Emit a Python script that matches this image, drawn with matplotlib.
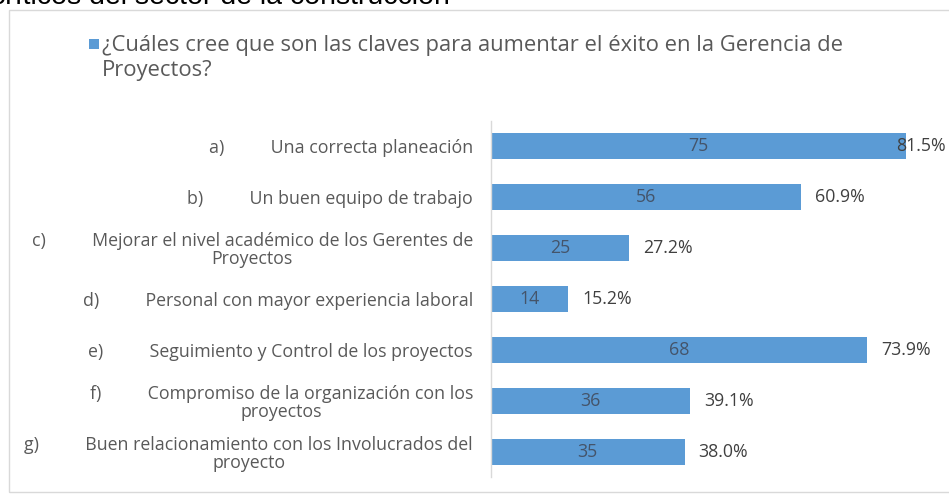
import matplotlib
matplotlib.use("Agg")
import matplotlib.pyplot as plt
from matplotlib.patches import Rectangle

# Survey answers: number of respondents choosing each key factor (n = 92)
letters = ["a)", "b)", "c)", "d)", "e)", "f)", "g)"]
factors = [
    "Una correcta planeación",
    "Un buen equipo de trabajo",
    "Mejorar el nivel académico de los Gerentes de\nProyectos",
    "Personal con mayor experiencia laboral",
    "Seguimiento y Control de los proyectos",
    "Compromiso de la organización con los\nproyectos",
    "Buen relacionamiento con los Involucrados del\nproyecto",
]
counts = [75, 56, 25, 14, 68, 36, 35]
percents = [81.5, 60.9, 27.2, 15.2, 73.9, 39.1, 38.0]

series_name = "¿Cuáles cree que son las claves para aumentar el éxito en la Gerencia de\nProyectos?"
heading = "críticos del sector de la construcción"

W, H = 949, 494
BLUE = "#5B9BD5"
FONT = "Open Sans"
FS = 12.8

fig = plt.figure(figsize=(W / 100, H / 100), dpi=100)
fig.patch.set_facecolor("white")


def fx(x):
    return x / W


def fy(y):
    return 1 - y / H


# outer chart frame
fig.patches.append(Rectangle((fx(9), fy(492)), fx(960) - fx(9), fy(10) - fy(492),
                             transform=fig.transFigure, fill=False,
                             edgecolor="#d9d9d9", linewidth=1.0))

# heading text from the page above the chart
fig.text(fx(450), fy(4.5), heading, ha="right", va="baseline",
         fontsize=20.5, family="Liberation Sans", color="black")

# series legend
fig.patches.append(Rectangle((fx(89), fy(49)), fx(10), 10 / H,
                             transform=fig.transFigure, facecolor=BLUE, edgecolor="none"))
fig.text(fx(102), fy(35), series_name, ha="left", va="top", fontsize=15.8,
         family=FONT, color="#595959", linespacing=1.25)

ax = fig.add_axes([fx(491), fy(477), fx(949) - fx(491), fy(121) - fy(477)])
y = list(range(len(counts)))
bars = ax.barh(y, counts, height=0.51, color=BLUE, edgecolor="none")
ax.set_ylim(len(counts) - 0.5, -0.5)
xmax = 458 / 5.53
ax.set_xlim(0, xmax)

for s in ["top", "right", "bottom"]:
    ax.spines[s].set_visible(False)
ax.spines["left"].set_color("#d9d9d9")
ax.spines["left"].set_linewidth(1.0)
ax.set_xticks([])

labels = [f"{l}{' ' * 10}{t}" for l, t in zip(letters, factors)]
ax.set_yticks(y)
ax.set_yticklabels(labels, fontsize=FS, family=FONT, color="#595959")
for t in ax.get_yticklabels():
    t.set_multialignment("center")
    t.set_linespacing(1.0)
ax.tick_params(axis="y", length=0, pad=13)

# value labels inside the bars and share labels to the right
for b, c, p in zip(bars, counts, percents):
    yc = b.get_y() + b.get_height() / 2
    ax.text(c / 2, yc, f"{c}", ha="center", va="center", fontsize=FS,
            family=FONT, color="#44546A")
    txt = f"{p:.1f}%"
    if c + 2.6 + 9.5 > xmax:
        ax.text(xmax - 0.6, yc, txt, ha="right", va="center", fontsize=FS,
                family=FONT, color="#404040")
    else:
        ax.annotate(txt, (c, yc), xytext=(10, 0), textcoords="offset points",
                    ha="left", va="center", fontsize=FS, family=FONT,
                    color="#404040")

fig.savefig("out.png", dpi=100, facecolor="white")
